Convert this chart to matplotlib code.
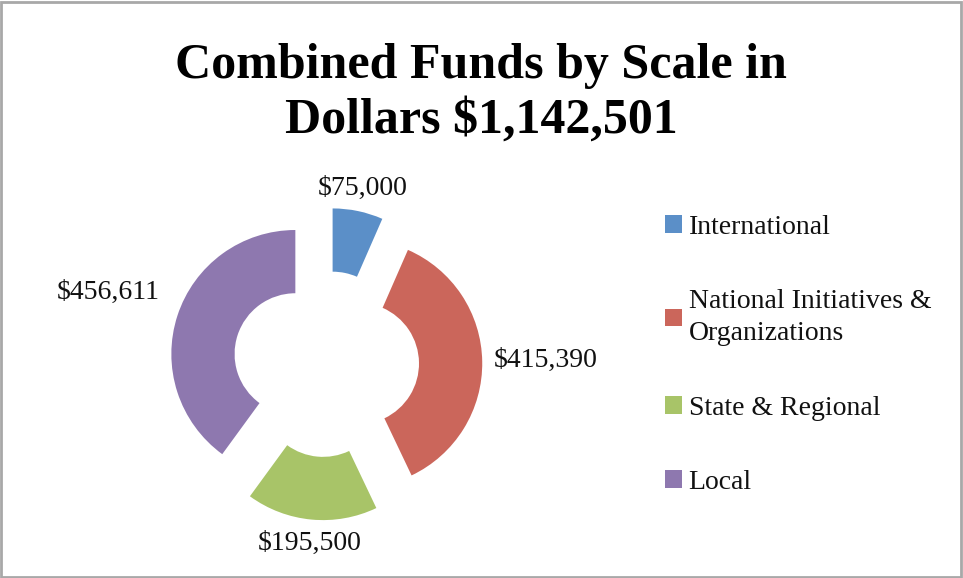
import matplotlib
matplotlib.use("Agg")
import matplotlib.pyplot as plt
import numpy as np
from matplotlib.patches import Rectangle

categories = ["International", "National Initiatives &\nOrganizations", "State & Regional", "Local"]
values = [75000, 415390, 195500, 456611]
value_labels = ["$75,000", "$415,390", "$195,500", "$456,611"]
title = "Combined Funds by Scale in\nDollars $1,142,501"

colors = ["#5B8FC8", "#CB665B", "#A8C468", "#8E78AF"]
label_dist = [1.45, 1.77, 1.45, 1.85]

W, H = 963, 578
fig = plt.figure(figsize=(W / 100, H / 100), dpi=100)
fig.patch.set_facecolor("white")
ax = fig.add_axes([0, 0, 1, 1])

cx, cy = 326, H - 364
R = 124
explode_frac = 0.26
wedges, _ = ax.pie(values, colors=colors, startangle=90, counterclock=False,
                   radius=R, center=(cx, cy), explode=[explode_frac * R] * 4,
                   wedgeprops=dict(width=R * 0.51, linewidth=0))
ax.set_xlim(0, W)
ax.set_ylim(0, H)
ax.set_aspect("equal")
ax.axis("off")

serif = ["Liberation Serif", "DejaVu Serif"]
for w, lab, d in zip(wedges, value_labels, label_dist):
    ang = np.deg2rad((w.theta1 + w.theta2) / 2)
    ax.text(cx + d * R * np.cos(ang), cy + d * R * np.sin(ang), lab,
            ha="center", va="center", fontsize=20, family=serif, color="#111111")

fig.text(481 / W, 1 - 93 / H, title, ha="center", va="center", fontsize=36,
         fontweight="bold", family=serif, linespacing=1.25, color="black")

leg = ax.legend(wedges, categories, loc="upper left", bbox_to_anchor=(640 / W, 1 - 190 / H),
                bbox_transform=fig.transFigure, frameon=False,
                prop=dict(family=serif, size=20), handlelength=0.6, handleheight=0.6,
                handletextpad=0.25, labelspacing=1.78)
for t in leg.get_texts():
    t.set_color("#111111")
    t.set_linespacing(1.35)

fig.patches.append(Rectangle((1 / W, 1 / H), 1 - 3 / W, 1 - 3 / H, transform=fig.transFigure,
                             fill=False, edgecolor="#A8A8A8", linewidth=2))
fig.savefig("out.png", dpi=100)
